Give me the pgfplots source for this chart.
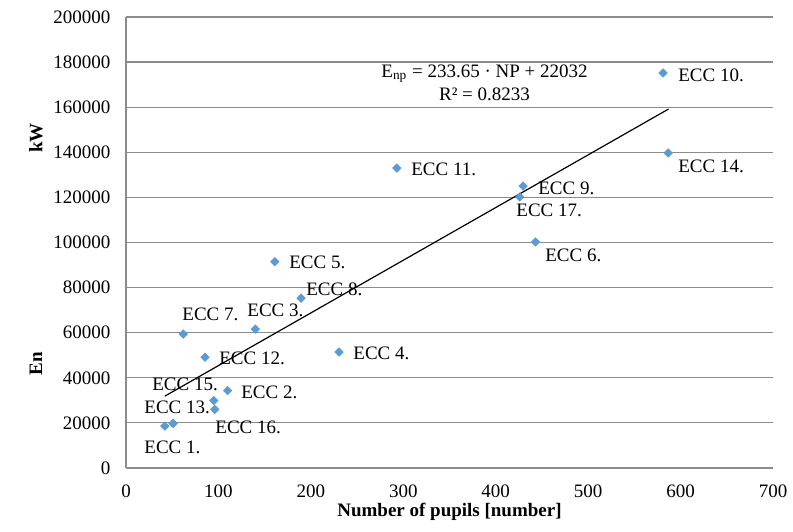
\documentclass[border=0pt]{standalone}
\usepackage{fontspec}
\setmainfont{Liberation Serif}
\usepackage{pgfplots}
\pgfplotsset{compat=1.18}
\usetikzlibrary{calc}
\definecolor{eccblue}{HTML}{5B9BD5}
\definecolor{gridgray}{HTML}{8C8C8C}

% energy consumption vs. number of pupils, 17 ECCs
\pgfplotstableread{
np     e
42     18600
51     19800
140    61600
110    34300
230.5  51400
161    91500
443    100200
62     59400
189.4  75300
581    175200
293    133000
429.7  125000
85.5   49100
51     19800
586.6  139700
95     29900
96     26000
426    120200
}\ecc

\begin{document}
\fontsize{9.5}{11.5}\selectfont
\begin{tikzpicture}
\begin{axis}[
  scale only axis,
  width=323.5pt, height=225.5pt,
  xmin=0, xmax=700, ymin=0, ymax=200000,
  xtick distance=100, ytick distance=20000,
  scaled ticks=false,
  /pgf/number format/fixed,
  /pgf/number format/precision=0,
  /pgf/number format/1000 sep={},
  /pgf/number format/assume math mode=true,
  axis x line*=bottom, axis y line*=left,
  axis line style={gridgray, line width=0.6pt, -},
  major tick length=0pt,
  ymajorgrids, grid style={gridgray, line width=0.6pt},
  tick label style={font=\fontsize{9.5}{11.5}\selectfont},
  xticklabel style={yshift=-5pt},
  yticklabel style={xshift=-4.5pt},
  xlabel={\bfseries Number of pupils [number]},
  xlabel style={at={(axis description cs:0.5,0)}, anchor=center, yshift=-22pt},
  clip=false,
]
\addplot[only marks, mark=square*, mark size=1.45pt,
  mark options={rotate=45, fill=eccblue, draw=eccblue}] table[x=np, y=e] {\ecc};
% linear trend line
\addplot[black, line width=0.6pt] coordinates {(42,31845) (587,159180)};

\begin{scope}[every node/.style={anchor=west, inner sep=0pt}]
\node at (axis cs:19.5,9300) {ECC 1.};
\node at (axis cs:19.5,27050) {ECC 13.};
\node at (axis cs:96.3,18200) {ECC 16.};
\node at (axis cs:28.1,37250) {ECC 15.};
\node at (axis cs:124.4,33700) {ECC 2.};
\node at (axis cs:100.6,48800) {ECC 12.};
\node at (axis cs:60.6,68300) {ECC 7.};
\node at (axis cs:130.9,70100) {ECC 3.};
\node at (axis cs:194.7,79400) {ECC 8.};
\node at (axis cs:176.3,91350) {ECC 5.};
\node at (axis cs:245.6,51000) {ECC 4.};
\node at (axis cs:308.3,132600) {ECC 11.};
\node at (axis cs:445.7,124200) {ECC 9.};
\node at (axis cs:422,114400) {ECC 17.};
\node at (axis cs:453.3,94450) {ECC 6.};
\node at (axis cs:597.2,174300) {ECC 10.};
\node at (axis cs:597.2,133900) {ECC 14.};
\end{scope}
\node[align=center, inner sep=0pt] at (axis cs:387.9,170700)
  {E\textsubscript{np} = 233.65 · NP + 22032\\R² = 0.8233};

\coordinate (sw) at (rel axis cs:0,0);
\coordinate (ne) at (rel axis cs:1,1);
\end{axis}
% garbled y-axis label of the original
\node[rotate=90, font=\bfseries\fontsize{9.5}{11.5}\selectfont, inner sep=0pt]
  at ($(sw)+(-45pt,165pt)$) {kW};
\node[rotate=90, font=\bfseries\fontsize{9.5}{11.5}\selectfont, inner sep=0pt]
  at ($(sw)+(-45pt,52pt)$) {En};
\pgfresetboundingbox
\path ($(sw)+(-63pt,-32pt)$) rectangle ($(ne)+(10pt,8.5pt)$);
\end{tikzpicture}
\end{document}
